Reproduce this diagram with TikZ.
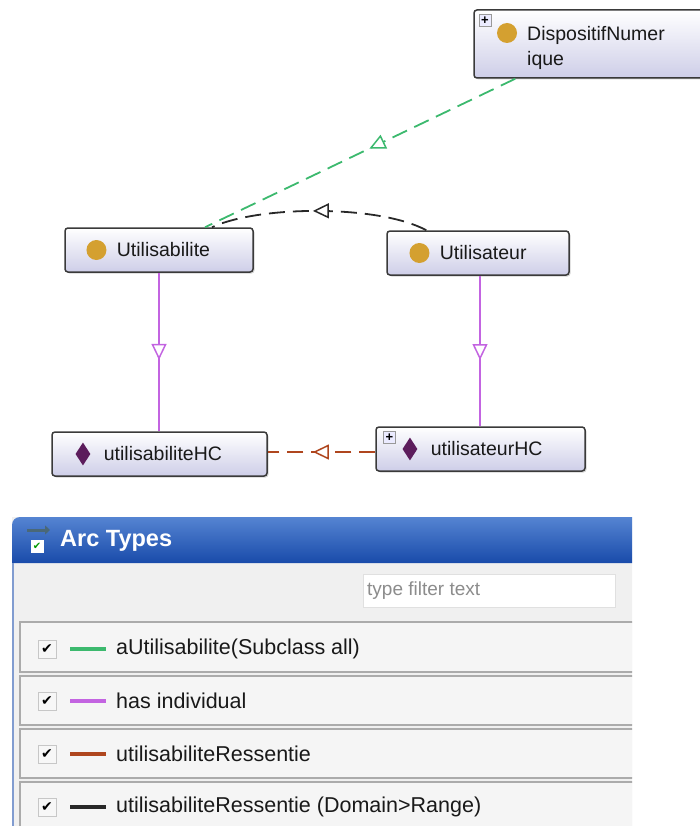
\documentclass[tikz,border=0pt]{standalone}
\usepackage{xcolor}
\usepackage{fontspec}
\setmainfont{Liberation Sans}
\newfontfamily\symfont{DejaVu Sans}
\usepackage{tikz}
\usetikzlibrary{shapes.geometric, arrows.meta, positioning, decorations.markings, shadows}
\definecolor{boxline}{RGB}{58,58,58}
\definecolor{boxfill}{RGB}{206,206,232}
\definecolor{gold}{RGB}{212,160,48}
\definecolor{plum}{RGB}{92,28,92}
\definecolor{arcgreen}{RGB}{60,185,110}
\definecolor{arcviolet}{RGB}{195,100,225}
\definecolor{arcbrown}{RGB}{175,70,30}
\definecolor{arcblack}{RGB}{40,40,40}
\definecolor{headtop}{RGB}{85,132,210}
\definecolor{headbot}{RGB}{25,75,170}
\definecolor{panel}{RGB}{240,240,240}
\tikzset{
    cls/.style={rectangle, rounded corners=3pt, draw=boxline, line width=1.5pt, top color=white, bottom color=boxfill, drop shadow={shadow xshift=1.5pt, shadow yshift=-1.5pt, opacity=0.35}, minimum height=44pt, inner sep=0pt},
    clsdot/.style={circle, fill=gold, minimum size=20pt, inner sep=0pt},
    gem/.style={diamond, fill=plum, minimum width=15pt, minimum height=23pt, inner sep=0pt},
    lbl/.style={inner sep=0pt, text=black!90, font=\fontsize{19.5}{25}\selectfont},
    plusbox/.style={rectangle, draw=black!40, fill=blue!8, minimum size=12pt, inner sep=0pt, font=\bfseries\fontsize{13}{13}\selectfont},
    dashline/.style={line width=1.8pt, dash pattern=on 16pt off 8pt},
    midtip/.style={postaction={decorate}, decoration={markings, mark=at position #1 with {\arrow{Triangle[open, fill=white, length=16pt, width=15pt, line width=1.5pt]}}}},
    rowbox/.style={draw=black!33, fill=black!4, line width=1.5pt},
    chk/.style={rectangle, draw=black!22, fill=black!3, minimum size=18pt, inner sep=0pt, font=\symfont\fontsize{14}{14}\selectfont},
    swatch/.style={rectangle, minimum width=36pt, minimum height=3.5pt, inner sep=0pt},
    entry/.style={anchor=west, inner sep=0pt, text=black!90, font=\fontsize{21.5}{24}\selectfont}
}
\begin{document}
\begin{tikzpicture}[x=1pt, y=-1pt]
    \useasboundingbox (0,0) rectangle (700,826);

    % Classes
    \node[cls, minimum width=234pt, minimum height=68pt] (disp) at (591,44) {};
    \node[plusbox] (dispplus) at (485,20.5) {+};
    \node[clsdot] (dispdot) at (507,33) {};
    \node[lbl, anchor=west, align=left] (disptxt) at (527,47.5) {DispositifNumer\\ique};

    \node[cls, minimum width=188pt] (usab) at (159,250) {};
    \node[clsdot, right=22pt of usab.west] (usabdot) {};
    \node[lbl, right=10pt of usabdot] (usabtxt) {Utilisabilite};

    \node[cls, minimum width=182pt] (utr) at (478,253) {};
    \node[clsdot, right=23pt of utr.west] (utrdot) {};
    \node[lbl, right=10pt of utrdot] (utrtxt) {Utilisateur};

    % Individuals
    \node[cls, minimum width=215pt] (usabhc) at (159.5,454) {};
    \node[gem, right=24pt of usabhc.west] (usabgem) {};
    \node[lbl, right=13pt of usabgem] (usabhctxt) {utilisabiliteHC};

    \node[cls, minimum width=209pt] (utrhc) at (480.5,449) {};
    \node[plusbox] (utrplus) at (389.5,437.5) {+};
    \node[gem, right=27pt of utrhc.west] (utrgem) {};
    \node[lbl, right=13pt of utrgem] (utrhctxt) {utilisateurHC};

    % Arcs
    \draw[dashline, arcgreen, midtip=0.47] ([xshift=42pt]disp.south west) -- ([xshift=46pt]usab.north);
    \draw[dashline, arcblack, midtip=0.53] ([xshift=40pt]utr.north west) .. controls (380,205) and (260,205) .. ([xshift=53pt]usab.north);
    \draw[line width=1.8pt, arcviolet, midtip=0.55] (usab.south) -- (usab.south |- usabhc.north);
    \draw[line width=1.8pt, arcviolet, midtip=0.56] ([xshift=2pt]utr.south) -- ([xshift=2pt]utr.south |- utrhc.north);
    \draw[dashline, arcbrown, midtip=0.58] ([yshift=-3pt]utrhc.west) -- ([yshift=-3pt]utrhc.west -| usabhc.east);

    % Arc types panel
    \begin{scope}
        \clip (0,505) rectangle (632,826);
        \fill[panel] (12,517) rectangle (650,830);
        \shade[top color=headtop, bottom color=headbot] (12,563) [rounded corners=8pt] -- (12,517) [sharp corners] -- (650,517) -- (650,563) -- cycle;
        \draw[headbot!55, line width=1.5pt] (12.75,563) -- (12.75,830);
        \draw[-{Triangle[length=5pt, width=9pt]}, line width=3pt, black!60!cyan] (27,530) -- (50,530);
        \node[rectangle, fill=white, minimum size=13pt, inner sep=0pt, font=\symfont\fontsize{10}{10}\selectfont, text=green!60!black] (icon) at (37,546) {✔};
        \node[anchor=west, inner sep=0pt, text=white, font=\bfseries\fontsize{23.5}{24}\selectfont] (title) at (60,541) {Arc Types};

        \node[draw=black!12, fill=white, minimum width=252pt, minimum height=33pt, inner sep=0pt] (filter) at (489,590.5) {};
        \node[anchor=west, inner sep=0pt, text=black!45, font=\fontsize{19}{20}\selectfont] (filtertxt) at (367,591) {type filter text};

        \draw[rowbox] (20,622) rectangle (650,672);
        \draw[rowbox] (20,676) rectangle (650,725);
        \draw[rowbox] (20,729) rectangle (650,778);
        \draw[rowbox] (20,782) rectangle (650,840);

        \node[chk] (chkA) at (47,649) {✔};
        \node[swatch, fill=arcgreen] (swA) at (88,649) {};
        \node[entry] (entA) at (116,649) {aUtilisabilite(Subclass all)};

        \node[chk] (chkB) at (47,701) {✔};
        \node[swatch, fill=arcviolet] (swB) at (88,701) {};
        \node[entry] (entB) at (116,701) {has individual};

        \node[chk] (chkC) at (47,754) {✔};
        \node[swatch, fill=arcbrown] (swC) at (88,754) {};
        \node[entry] (entC) at (116,754) {utilisabiliteRessentie};

        \node[chk] (chkD) at (47,807) {✔};
        \node[swatch, fill=arcblack] (swD) at (88,807) {};
        \node[entry] (entD) at (116,807) {utilisabiliteRessentie (Domain>Range)};
    \end{scope}
\end{tikzpicture}
\end{document}
